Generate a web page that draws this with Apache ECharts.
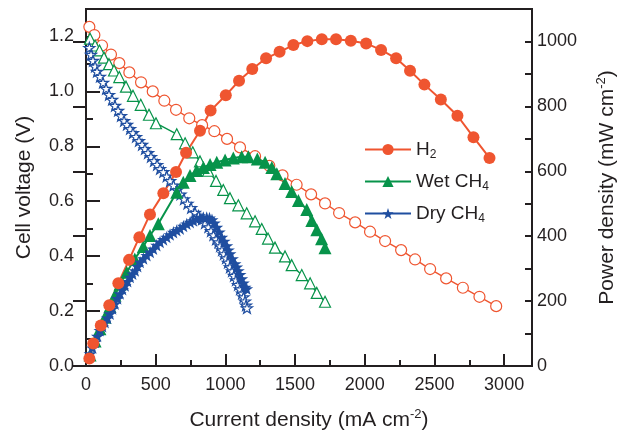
<!DOCTYPE html>
<html lang="en">
<head>
    <meta charset="UTF-8">
    <title>Cell voltage and power density</title>
    <style>
        * { padding: 0; margin: 0; box-sizing: border-box; }
        html, body { width: 100%; height: 100%; overflow: hidden; background: #fff; }
        #box { width: 622px; height: 435px; }
    </style>
</head>
<body>
    <div id="box"></div>
</body>
<script src="https://cdn.jsdelivr.net/npm/echarts@6/dist/echarts.min.js"></script>
<script>
    // H2 - voltage (open circles) and power (filled circles)
    var h2VoltI = [24, 60, 115, 179, 239, 311, 395, 479, 562, 646, 741, 833, 921, 1012, 1105, 1213, 1315, 1410, 1511, 1615, 1715, 1816, 1931, 2038, 2146, 2261, 2361, 2469, 2584, 2704, 2823, 2943];
    var h2Volt = [1.235, 1.205, 1.167, 1.134, 1.103, 1.069, 1.033, 1.000, 0.966, 0.933, 0.902, 0.877, 0.855, 0.827, 0.796, 0.764, 0.729, 0.694, 0.660, 0.625, 0.592, 0.557, 0.523, 0.489, 0.455, 0.422, 0.388, 0.353, 0.319, 0.285, 0.252, 0.218];
    var h2PowI = [24, 52, 106, 167, 232, 309, 383, 459, 555, 646, 718, 818, 894, 1003, 1098, 1193, 1292, 1389, 1488, 1588, 1692, 1794, 1900, 2010, 2117, 2225, 2325, 2428, 2546, 2665, 2780, 2895];
    var h2Pow = [23, 69, 125, 187, 255, 327, 397, 467, 532, 598, 657, 725, 787, 834, 879, 915, 948, 968, 989, 1001, 1007, 1007, 1002, 994, 974, 948, 910, 867, 821, 771, 705, 641];

    // wet CH4 - open / filled triangles
    var wetVoltI = [29, 65, 97, 129, 165, 201, 239, 287, 337, 393, 452, 502, 651, 711, 766, 818, 876, 933, 985, 1033, 1093, 1153, 1213, 1261, 1306, 1356, 1428, 1476, 1548, 1608, 1656, 1715];
    var wetVolt = [1.192, 1.167, 1.149, 1.123, 1.099, 1.076, 1.052, 1.017, 0.984, 0.951, 0.915, 0.884, 0.844, 0.811, 0.778, 0.745, 0.711, 0.674, 0.641, 0.611, 0.585, 0.556, 0.527, 0.499, 0.464, 0.431, 0.399, 0.367, 0.331, 0.301, 0.266, 0.234];
    var wetPowI = [29, 65, 100, 136, 172, 208, 244, 292, 350, 411, 459, 519, 651, 698, 746, 794, 842, 890, 938, 998, 1057, 1117, 1165, 1229, 1285, 1333, 1369, 1428, 1476, 1524, 1584, 1620, 1656, 1690, 1715];
    var wetPow = [34, 77, 115, 150, 184, 218, 252, 289, 330, 368, 402, 438, 535, 566, 587, 602, 612, 621, 628, 635, 641, 645, 645, 638, 628, 612, 592, 562, 538, 510, 482, 448, 420, 392, 364];

    // dry CH4 - open / filled stars
    var dryVoltI = [24, 36, 50, 65, 79, 100, 122, 144, 165, 187, 208, 230, 251, 273, 294, 316, 337, 359, 380, 402, 423, 445, 466, 488, 510, 531, 555, 579, 603, 628, 653, 678, 703, 728, 754, 782, 807, 832, 854, 878, 897, 914, 933, 950, 962, 976, 990, 1005, 1019, 1033, 1048, 1062, 1076, 1091, 1105, 1120, 1130, 1141, 1148, 1155];
    var dryVolt = [1.159, 1.134, 1.112, 1.091, 1.072, 1.054, 1.032, 1.010, 0.988, 0.970, 0.948, 0.930, 0.911, 0.893, 0.879, 0.864, 0.849, 0.835, 0.820, 0.806, 0.791, 0.776, 0.762, 0.747, 0.733, 0.718, 0.707, 0.691, 0.674, 0.658, 0.641, 0.625, 0.608, 0.592, 0.576, 0.559, 0.546, 0.534, 0.521, 0.506, 0.492, 0.477, 0.462, 0.451, 0.437, 0.422, 0.408, 0.393, 0.377, 0.360, 0.346, 0.329, 0.313, 0.296, 0.280, 0.265, 0.251, 0.236, 0.221, 0.211];
    var dryPowI = [29, 47, 65, 82, 100, 118, 136, 154, 172, 190, 208, 226, 244, 262, 280, 298, 316, 334, 352, 370, 388, 412, 436, 460, 483, 507, 531, 555, 579, 603, 627, 651, 675, 699, 723, 747, 770, 794, 818, 842, 866, 886, 904, 921, 938, 956, 974, 992, 1010, 1022, 1033, 1051, 1069, 1081, 1093, 1105, 1117, 1129, 1141, 1153];
    var dryPow = [38, 56, 74, 92, 110, 122, 135, 148, 161, 177, 192, 208, 223, 236, 248, 261, 274, 284, 294, 307, 320, 331, 341, 351, 361, 372, 382, 390, 397, 405, 412, 418, 423, 431, 438, 443, 448, 453, 457, 458, 458, 456, 451, 441, 428, 413, 397, 385, 371, 358, 346, 331, 315, 305, 294, 282, 269, 256, 243, 238];

    var red = '#ef5530';
    var green = '#07934a';
    var blue = '#1f4ea0';
    var ink = '#231f20';
    var font = 'Liberation Sans, Arial, sans-serif';
    var star = 'path://M50 0L61.8 35.1H97.6L68.9 56.7L79.4 90.9L50 70.2L20.6 90.9L31.1 56.7L2.4 35.1H38.2Z';

    function pairs(xs, ys) {
        return xs.map(function (x, i) { return [x, ys[i]]; });
    }

    function openSeries(name, color, symbol, size, xs, ys) {
        return {
            name: name, type: 'line', xAxisIndex: 0, yAxisIndex: 0,
            symbol: symbol, symbolSize: size, symbolKeepAspect: true,
            lineStyle: { color: color, width: 1.4 },
            itemStyle: { color: '#fff', borderColor: color, borderWidth: 1.2 },
            data: pairs(xs, ys)
        };
    }

    function fullSeries(name, color, symbol, size, xs, ys) {
        return {
            name: name, type: 'line', xAxisIndex: 0, yAxisIndex: 1,
            symbol: symbol, symbolSize: size, symbolKeepAspect: true,
            lineStyle: { color: color, width: 2 },
            itemStyle: { color: color, borderWidth: 0 },
            data: pairs(xs, ys)
        };
    }

    var plain = function (v) { return String(v); };
    var labelStyle = { fontSize: 18, color: ink, fontFamily: font };
    var nameStyle = {
        fontSize: 21, color: ink, fontFamily: font,
        rich: { sup: { fontSize: 13, fontFamily: font, color: ink, padding: [0, 0, 12, 0] } }
    };
    var lineSt = { lineStyle: { color: ink, width: 2 } };

    var box = echarts.init(document.getElementById('box'));
    var option = {
        animation: false,
        backgroundColor: '#fff',
        grid: { left: 86, right: 90, top: 9, bottom: 69, show: true, borderColor: ink, borderWidth: 2, outerBoundsMode: 'none' },
        legend: {
            data: ['H2', 'Wet CH4', 'Dry CH4'],
            orient: 'vertical', left: 364, top: 140, padding: 0,
            itemWidth: 46, itemHeight: 14, itemGap: 11,
            textStyle: {
                fontSize: 19, color: ink, fontFamily: font,
                rich: { sub: { fontSize: 12, fontFamily: font, color: ink, padding: [11, 0, 0, 0] } }
            },
            formatter: function (n) { return n.replace(/(\d)$/, '{sub|$1}'); }
        },
        xAxis: [{
            type: 'value', min: 0, max: 3200, interval: 500,
            name: 'Current density (mA cm{sup|-2})', nameLocation: 'middle', nameGap: 42,
            nameTextStyle: nameStyle, nameMoveOverlap: false,
            axisLine: lineSt,
            axisTick: { inside: true, length: 12, lineStyle: { color: ink, width: 2 } },
            axisLabel: Object.assign({ margin: 10, showMaxLabel: false, formatter: plain }, labelStyle),
            splitLine: { show: false }
        }, {
            type: 'value', min: 0, max: 3200, interval: 250, position: 'bottom',
            axisLine: { show: false },
            axisTick: { inside: true, length: 6, lineStyle: { color: ink, width: 2 } },
            axisLabel: { show: false }, splitLine: { show: false }
        }],
        yAxis: [{
            type: 'value', min: 0, max: 1.3, interval: 0.2, position: 'left',
            name: 'Cell voltage (V)', nameLocation: 'middle', nameGap: 51, nameRotate: 90,
            nameTextStyle: nameStyle, nameMoveOverlap: false,
            axisLine: lineSt,
            axisTick: { inside: true, length: 14, lineStyle: { color: ink, width: 2 } },
            axisLabel: Object.assign({ margin: 12, showMaxLabel: false, formatter: function (v) { return v.toFixed(1); } }, labelStyle),
            splitLine: { show: false }
        }, {
            type: 'value', min: 0, max: 1100, interval: 200, position: 'right',
            name: 'Power density (mW cm{sup|-2})', nameLocation: 'middle', nameGap: 63, nameRotate: 90,
            nameTextStyle: nameStyle, nameMoveOverlap: false,
            axisLine: lineSt,
            axisTick: { inside: true, length: 13, lineStyle: { color: ink, width: 2 } },
            axisLabel: Object.assign({ margin: 5, showMaxLabel: false, formatter: plain }, labelStyle),
            splitLine: { show: false }
        }, {
            type: 'value', min: 0, max: 1.3, interval: 0.1, position: 'left',
            axisLine: { show: false },
            axisTick: { inside: true, length: 7, lineStyle: { color: ink, width: 2 } },
            axisLabel: { show: false }, splitLine: { show: false }
        }, {
            type: 'value', min: 0, max: 1100, interval: 100, position: 'right',
            axisLine: { show: false },
            axisTick: { inside: true, length: 7, lineStyle: { color: ink, width: 2 } },
            axisLabel: { show: false }, splitLine: { show: false }
        }],
        series: [
            openSeries('H2 V', red, 'circle', 11, h2VoltI, h2Volt),
            openSeries('Wet CH4 V', green, 'triangle', 11, wetVoltI, wetVolt),
            openSeries('Dry CH4 V', blue, star, 11, dryVoltI, dryVolt),
            fullSeries('Wet CH4', green, 'triangle', 13, wetPowI, wetPow),
            fullSeries('Dry CH4', blue, star, 13, dryPowI, dryPow),
            fullSeries('H2', red, 'circle', 12, h2PowI, h2Pow)
        ]
    };
    box.setOption(option);
</script>
</html>
